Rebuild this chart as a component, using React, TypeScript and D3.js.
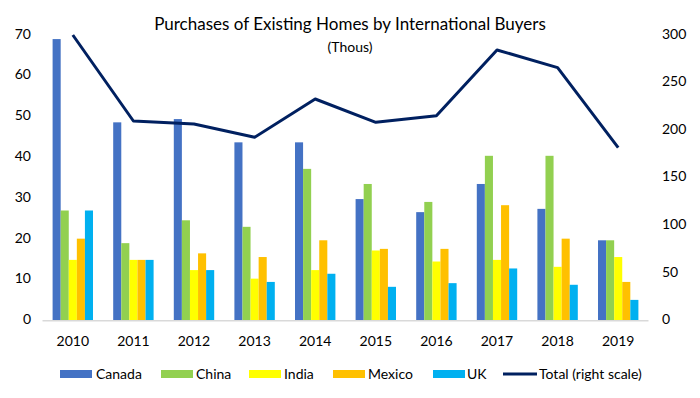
import React from 'react';
import * as d3 from 'd3';

const years = ['2010', '2011', '2012', '2013', '2014', '2015', '2016', '2017', '2018', '2019'];
const seriesNames = ['Canada', 'China', 'India', 'Mexico', 'UK'];
const canada = [69.0, 48.6, 49.4, 43.7, 43.7, 29.8, 26.6, 33.5, 27.4, 19.7];
const china = [27.0, 19.0, 24.6, 23.0, 37.2, 33.5, 29.1, 40.4, 40.4, 19.7];
const india = [14.9, 14.9, 12.4, 10.3, 12.4, 17.2, 14.5, 14.9, 13.2, 15.6];
const mexico = [20.1, 14.9, 16.5, 15.6, 19.7, 17.6, 17.6, 28.3, 20.1, 9.5];
const uk = [27.0, 14.9, 12.4, 9.5, 11.5, 8.3, 9.2, 12.8, 8.8, 5.1];
const total = [300, 209.7, 206.6, 192.6, 232.8, 208.3, 215.3, 284.3, 265.7, 181.7];
const leftTicks = [0, 10, 20, 30, 40, 50, 60, 70];
const rightTicks = [0, 50, 100, 150, 200, 250, 300];

const colors = ['#4472C4', '#92D050', '#FFFF00', '#FFC000', '#00B0F0'];
const lineColor = '#002060';

function App() {
  const width = 700;
  const height = 398;
  const plot = { left: 42.5, right: 648.5, top: 35, bottom: 320.7 };
  const font = 'Lato, "Open Sans", sans-serif';

  const values = [canada, china, india, mexico, uk];

  const x0 = d3.scaleBand().domain(years).range([plot.left, plot.right]).padding(0);
  const x1 = d3
    .scaleBand()
    .domain(seriesNames)
    .range([0, x0.bandwidth()])
    .paddingInner(0)
    .paddingOuter(1.25);
  const yLeft = d3.scaleLinear().domain([0, 70]).range([plot.bottom, plot.top]);
  const yRight = d3.scaleLinear().domain([0, 300]).range([plot.bottom, plot.top]);

  const line = d3
    .line<number>()
    .x((_, i) => (x0(years[i]) as number) + x0.bandwidth() / 2)
    .y((d) => yRight(d));

  const legend = [
    { name: 'Canada', x: 60, tx: 96 },
    { name: 'China', x: 161, tx: 196 },
    { name: 'India', x: 249, tx: 284 },
    { name: 'Mexico', x: 333, tx: 368 },
    { name: 'UK', x: 433, tx: 467 },
  ];

  return (
    <svg
      width={width}
      height={height}
      style={{ position: 'absolute', left: 0, top: 0, background: '#fff' }}
      fontFamily={font}
    >
      <text x={350} y={30} textAnchor="middle" fontSize={17} fill="#000">
        Purchases of Existing Homes by International Buyers
      </text>
      <text x={350} y={52} textAnchor="middle" fontSize={14} fill="#000">
        (Thous)
      </text>

      <g className="bars">
        {years.map((year, i) => (
          <g key={year} transform={`translate(${x0(year)} 0)`}>
            {seriesNames.map((s, j) => (
              <rect
                key={s}
                x={x1(s)}
                y={yLeft(values[j][i])}
                width={x1.bandwidth()}
                height={yLeft(0) - yLeft(values[j][i])}
                fill={colors[j]}
              />
            ))}
          </g>
        ))}
      </g>

      <path
        d={`M ${plot.left} ${plot.bottom} H ${plot.right}`}
        stroke="#D9D9D9"
        strokeWidth={1.5}
        fill="none"
      />

      <path
        d={line(total) ?? ''}
        fill="none"
        stroke={lineColor}
        strokeWidth={3}
        strokeLinejoin="round"
      />

      <g className="axes" fontSize={14} fill="#000">
        {leftTicks.map((t) => (
          <text key={t} x={31} y={yLeft(t)} textAnchor="end" dominantBaseline="middle">
            {t}
          </text>
        ))}
        {rightTicks.map((t) => (
          <text key={t} x={662} y={yRight(t)} textAnchor="start" dominantBaseline="middle">
            {t}
          </text>
        ))}
        {years.map((year) => (
          <text
            key={year}
            x={(x0(year) as number) + x0.bandwidth() / 2}
            y={346}
            textAnchor="middle"
          >
            {year}
          </text>
        ))}
      </g>

      <g className="legend" fontSize={14} fill="#000">
        {legend.map((l, j) => (
          <g key={l.name}>
            <rect x={l.x} y={370} width={32} height={8} fill={colors[j]} />
            <text x={l.tx} y={379}>
              {l.name}
            </text>
          </g>
        ))}
        <path d="M 503 374 H 537" stroke={lineColor} strokeWidth={3} />
        <text x={539} y={379}>
          Total (right scale)
        </text>
      </g>
    </svg>
  );
}

export default App;
